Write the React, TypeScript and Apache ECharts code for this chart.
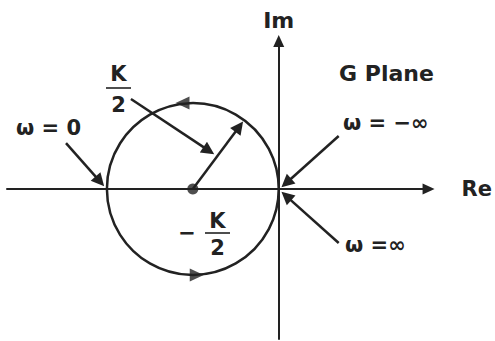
import React, { useEffect, useRef } from "react";
import * as echarts from "echarts";

// All values in units of the gain K (Nyquist locus of the G plane)
const axisNames = ["Re", "Im"];
const xRange = [-1.5814, 0.8721];
const yRange = [-0.872, 0.8605];

const circleCenter = [-0.5, 0]; // -K/2
const circleRadius = 0.5; // K/2

// direction marks on the locus: [re, im, rotation in degrees]
const directionMarks = [
  [-0.56, 0.5, 90],
  [-0.477, -0.5, -90],
];

// pointer arrows: start -> end
const arrowFrom = [
  [-0.5, 0],
  [-0.86, 0.523],
  [-1.238, 0.267],
  [0.349, 0.308],
  [0.349, -0.314],
];
const arrowTo = [
  [-0.23, 0.362],
  [-0.407, 0.223],
  [-1.041, 0.044],
  [0.044, 0.035],
  [0.044, -0.041],
];

const planeTitle = "G Plane";
const omegaLabels = ["ω = 0", "ω = −∞", "ω =∞"];
const fractionParts = ["K", "2", "−"];

const INK = "#222222";
const FONT = "'DejaVu Sans', Verdana, sans-serif";

export default function App() {
  const ref = useRef<HTMLDivElement>(null);
  useEffect(() => {
    if (!ref.current) return;
    const chart = echarts.init(ref.current, null, { renderer: "svg" });
    const nameStyle = (size: number) => ({
      color: INK,
      fontFamily: FONT,
      fontWeight: "bold" as const,
      fontSize: size,
    });
    const axisCommon = {
      type: "value" as const,
      splitLine: { show: false },
      axisTick: { show: false },
      axisLabel: { show: false },
      nameLocation: "end" as const,
    };
    const txt = (
      text: string,
      x: number,
      y: number,
      size: number,
      align: string = "center"
    ) => ({
      type: "text",
      x,
      y,
      silent: true,
      style: {
        text,
        fill: INK,
        font: `bold ${size}px ${FONT}`,
        textAlign: align,
        textVerticalAlign: "middle",
      },
    });
    const bar = (x1: number, x2: number, y: number) => ({
      type: "line",
      silent: true,
      shape: { x1, y1: y, x2, y2: y },
      style: { stroke: INK, lineWidth: 1.6 },
    });

    chart.setOption({
      animation: false,
      backgroundColor: "#ffffff",
      grid: { left: 7, right: 66, top: 41, bottom: 2, containLabel: false },
      xAxis: {
        ...axisCommon,
        min: xRange[0],
        max: xRange[1],
        name: axisNames[0],
        nameGap: 33,
        nameTextStyle: nameStyle(21),
        axisLine: {
          show: true,
          onZero: true,
          symbol: ["none", "triangle"],
          symbolSize: [11, 12],
          lineStyle: { color: INK, width: 2 },
        },
      },
      yAxis: {
        ...axisCommon,
        min: yRange[0],
        max: yRange[1],
        name: axisNames[1],
        nameGap: 10,
        nameTextStyle: nameStyle(22),
        axisLine: {
          show: true,
          onZero: true,
          symbol: ["none", "triangle"],
          symbolSize: [11, 12],
          lineStyle: { color: INK, width: 2 },
        },
      },
      series: [
        {
          type: "custom",
          coordinateSystem: "cartesian2d",
          silent: true,
          data: [[circleCenter[0], circleCenter[1], circleRadius]],
          renderItem: (_params: any, api: any) => {
            const c = api.coord([api.value(0), api.value(1)]);
            const r = api.size([api.value(2), 0])[0];
            return {
              type: "circle",
              shape: { cx: c[0], cy: c[1], r },
              style: { fill: "none", stroke: INK, lineWidth: 2.5 },
            };
          },
        },
        {
          type: "lines",
          coordinateSystem: "cartesian2d",
          silent: true,
          symbol: ["none", "triangle"],
          symbolSize: 13,
          lineStyle: { color: INK, width: 2.5, opacity: 1, curveness: 0 },
          data: arrowFrom.map((f, i) => ({ coords: [f, arrowTo[i]] })),
        },
        {
          type: "scatter",
          silent: true,
          symbol: "triangle",
          symbolSize: [13, 14],
          itemStyle: { color: INK },
          data: directionMarks.map((m) => ({
            value: [m[0], m[1]],
            symbolRotate: m[2],
          })),
        },
        {
          type: "scatter",
          silent: true,
          symbol: "circle",
          symbolSize: 11,
          itemStyle: { color: INK },
          data: [circleCenter],
        },
      ],
      graphic: [
        txt(planeTitle, 386.5, 73, 22),
        txt(omegaLabels[0], 16, 128, 21, "left"),
        txt(omegaLabels[1], 343, 123, 21, "left"),
        txt(omegaLabels[2], 345, 245, 21, "left"),
        txt(fractionParts[0], 118.5, 74, 21),
        bar(106, 131, 88),
        txt(fractionParts[1], 118.5, 105, 21),
        txt(fractionParts[2], 187, 233, 21),
        txt(fractionParts[0], 217.5, 221, 21),
        bar(205, 230, 233),
        txt(fractionParts[1], 217.5, 248, 21),
      ],
    });
    return () => chart.dispose();
  }, []);
  return (
    <div
      ref={ref}
      style={{ position: "fixed", left: 0, top: 0, width: 495, height: 341 }}
    />
  );
}
